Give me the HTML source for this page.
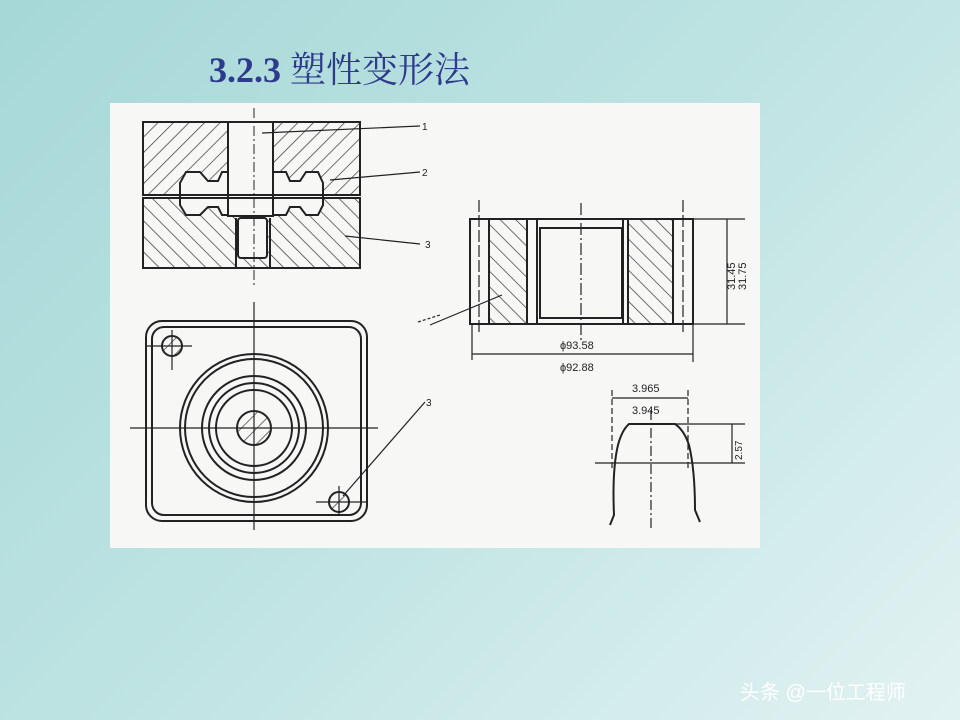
<!DOCTYPE html>
<html><head><meta charset="utf-8"><style>
html,body{margin:0;padding:0}
body{width:960px;height:720px;overflow:hidden;position:relative;background:linear-gradient(135deg,#a6d8d8 0%,#bfe3e3 50%,#e2f2f2 100%);font-family:"Liberation Serif","Noto Serif CJK SC",serif}
.t{position:absolute;left:209px;top:42px;font-size:36px;font-weight:bold;color:#2e3a8c;white-space:nowrap}
.t span{font-weight:normal}
.w{position:absolute;left:740px;top:676px;font-size:20px;color:#fff;font-family:"Liberation Sans","Noto Sans CJK SC",sans-serif;white-space:nowrap}
svg{position:absolute;left:0;top:0}
</style></head><body>
<div class="t">3.2.3 <span>塑性变形法</span></div>
<svg width="960" height="720" viewBox="0 0 960 720">
<defs>
<pattern id="h" width="11" height="11" patternUnits="userSpaceOnUse" patternTransform="rotate(45)"><line x1="0" y1="0" x2="0" y2="11" stroke="#333" stroke-width="1.4"/></pattern>
<pattern id="h2" width="11" height="11" patternUnits="userSpaceOnUse" patternTransform="rotate(-45)"><line x1="0" y1="0" x2="0" y2="11" stroke="#333" stroke-width="1.4"/></pattern>
</defs>
<rect x="110" y="103" width="650" height="445" fill="#f7f8f6"/>
<g stroke="#222" stroke-width="2" fill="none">
<rect x="143" y="122" width="217" height="73" fill="url(#h)"/>
<rect x="143" y="198" width="217" height="70" fill="url(#h2)"/>
<path d="M180 183 L186 172 L200 172 L208 181 L218 181 L222 172 L286 172 L290 181 L300 181 L306 172 L318 172 L323 183 L323 205 L318 215 L306 215 L300 207 L290 207 L286 215 L222 215 L218 207 L208 207 L200 215 L186 215 L180 205 Z" fill="#f7f8f6"/>
<rect x="228" y="122" width="45" height="94" fill="#f7f8f6"/>
<line x1="180" y1="195" x2="323" y2="195"/><line x1="180" y1="198" x2="323" y2="198"/>
<rect x="238" y="218" width="29" height="40" rx="3" fill="#f7f8f6"/>
<line x1="236" y1="218" x2="236" y2="268"/><line x1="270" y1="218" x2="270" y2="268"/>
<line x1="254" y1="108" x2="254" y2="285" stroke-width="1" stroke-dasharray="10 3 2 3"/>
<g stroke-width="1.2"><line x1="262" y1="133" x2="420" y2="126"/><line x1="330" y1="180" x2="420" y2="172"/><line x1="345" y1="236" x2="420" y2="244"/></g>
<rect x="146" y="321" width="221" height="200" rx="16"/>
<rect x="152" y="327" width="209" height="188" rx="12"/>
<circle cx="254" cy="428" r="74"/><circle cx="254" cy="428" r="69"/>
<circle cx="254" cy="428" r="52"/><circle cx="254" cy="428" r="45"/><circle cx="254" cy="428" r="38"/>
<circle cx="254" cy="428" r="17" fill="url(#h)"/>
<circle cx="172" cy="346" r="10" fill="url(#h)"/><circle cx="339" cy="502" r="10" fill="url(#h)"/>
<g stroke-width="1.2"><line x1="130" y1="428" x2="378" y2="428"/><line x1="254" y1="302" x2="254" y2="530"/>
<line x1="145" y1="346" x2="192" y2="346"/><line x1="172" y1="330" x2="172" y2="370"/>
<line x1="316" y1="502" x2="366" y2="502"/><line x1="339" y1="486" x2="339" y2="514"/>
<line x1="343" y1="496" x2="425" y2="402"/><line x1="418" y1="322" x2="440" y2="315" stroke-dasharray="3 2"/></g>
<rect x="470" y="219" width="223" height="105"/>
<rect x="489" y="219" width="38" height="105" fill="url(#h2)"/>
<rect x="628" y="219" width="45" height="105" fill="url(#h2)"/>
<line x1="537" y1="219" x2="537" y2="324"/><line x1="623" y1="219" x2="623" y2="324"/>
<rect x="540" y="228" width="82" height="90"/>
<g stroke-width="1.2"><line x1="479" y1="200" x2="479" y2="335" stroke-dasharray="12 3"/><line x1="683" y1="200" x2="683" y2="335" stroke-dasharray="12 3"/>
<line x1="581" y1="203" x2="581" y2="340" stroke-dasharray="12 3 2 3"/>
<line x1="693" y1="219" x2="745" y2="219"/><line x1="693" y1="324" x2="745" y2="324"/>
<line x1="727" y1="219" x2="727" y2="324"/>
<line x1="472" y1="324" x2="472" y2="360"/><line x1="693" y1="324" x2="693" y2="362"/>
<line x1="472" y1="354" x2="693" y2="354"/>
<line x1="430" y1="325" x2="502" y2="295"/>
<line x1="612" y1="390" x2="612" y2="470" stroke-dasharray="6 3"/><line x1="688" y1="390" x2="688" y2="470" stroke-dasharray="6 3"/>
<line x1="612" y1="398" x2="688" y2="398"/>
<line x1="675" y1="424" x2="745" y2="424"/><line x1="595" y1="463" x2="745" y2="463"/>
<line x1="732" y1="424" x2="732" y2="463"/>
<line x1="651" y1="410" x2="651" y2="530" stroke-dasharray="10 3 2 3"/></g>
<path d="M610 525 L614 515 Q612 470 618 445 Q622 430 629 424 L675 424 Q684 430 689 445 Q695 470 695 510 L700 522"/>
</g>
<g fill="#222" font-family="Liberation Sans,sans-serif" font-size="10">
<text x="422" y="130">1</text><text x="422" y="176">2</text><text x="425" y="248">3</text><text x="426" y="406">3</text>
<text x="560" y="349" font-size="11">ϕ93.58</text><text x="560" y="371" font-size="11">ϕ92.88</text>
<text x="632" y="392" font-size="11">3.965</text><text x="632" y="414" font-size="11">3.945</text>
<text transform="translate(735,290) rotate(-90)" font-size="11">31.45</text>
<text transform="translate(746,290) rotate(-90)" font-size="11">31.75</text>
<text transform="translate(742,460) rotate(-90)" font-size="10">2.57</text>
</g>
</svg>
<div class="w">头条 @一位工程师</div>
</body></html>
